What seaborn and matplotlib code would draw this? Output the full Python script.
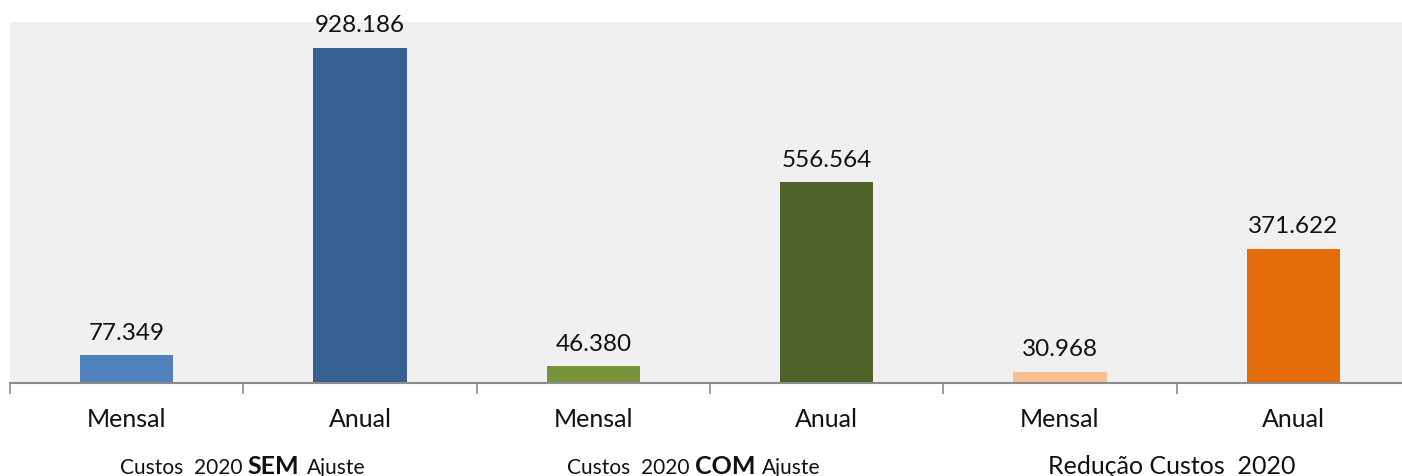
import pandas as pd
import matplotlib.pyplot as plt
import matplotlib.transforms as mtrans
import seaborn as sns

sns.set_style("white")
plt.rcParams['font.family'] = ['Lato', 'DejaVu Sans']

periods = ["Mensal", "Anual", "Mensal", "Anual", "Mensal", "Anual"]
keys = ["SEM Mensal", "SEM Anual", "COM Mensal", "COM Anual", "Red Mensal", "Red Anual"]
values = [77349, 928186, 46380, 556564, 30968, 371622]
labels = ["77.349", "928.186", "46.380", "556.564", "30.968", "371.622"]
colors = ["#4F81BD", "#366092", "#77933C", "#4F6228", "#FAC090", "#E46C0A"]

df = pd.DataFrame({'key': keys, 'value': [v / 1000 for v in values]})

fig = plt.figure(figsize=(14.02, 4.77), dpi=100)
ax = fig.add_axes([10 / 1402, 93 / 477, 1400 / 1402, 361 / 477])

sns.barplot(data=df, x='key', y='value', hue='key', palette=colors,
            width=0.4, dodge=False, legend=False, saturation=1,
            linewidth=0, ax=ax)

ax.set_facecolor("#F0F0F0")
ax.set_ylim(0, 1000)
ax.set_xlim(-0.5, 5.5)
ax.set_xlabel("")
ax.set_ylabel("")
ax.set_yticks([])
for s in ['top', 'right', 'left']:
    ax.spines[s].set_visible(False)
ax.spines['bottom'].set_color("#8C8C8C")
ax.spines['bottom'].set_linewidth(1.5)

ax.set_xticks(range(6))
ax.set_xticklabels(periods, fontsize=18, color="#111111")
ax.tick_params(axis='x', which='major', length=0, pad=17)
ax.set_xticks([i - 0.5 for i in range(7)], minor=True)
ax.tick_params(axis='x', which='minor', bottom=True, length=8, width=1.2,
               color="#8C8C8C", direction='out')

for i, p in enumerate(ax.patches):
    ax.annotate(labels[i], (p.get_x() + p.get_width() / 2, p.get_height()),
                xytext=(0, 9), textcoords='offset points',
                ha='center', va='bottom', fontsize=17.5, color="#111111")

# group labels under the axis
tr = mtrans.blended_transform_factory(ax.transData, fig.transFigure)
def piece(x, dx, txt, **kw):
    t = mtrans.offset_copy(tr, fig=fig, x=dx, y=0, units='dots')
    ax.text(x, 3 / 477, txt, transform=t, va='baseline', color="#111111", **kw)

piece(0.5, -1, "Custos  2020", ha='right', fontsize=15)
piece(0.5, 4, "SEM", ha='left', fontsize=18, fontweight='bold')
piece(0.5, 64, "Ajuste", ha='left', fontsize=15)
piece(2.5, -20, "Custos  2020", ha='right', fontsize=15)
piece(2.5, -15, "COM", ha='left', fontsize=18, fontweight='bold')
piece(2.5, 52, "Ajuste", ha='left', fontsize=15)
piece(4.5, -5, "Redução Custos  2020", ha='center', fontsize=18)

plt.savefig("out.png", dpi=100)
